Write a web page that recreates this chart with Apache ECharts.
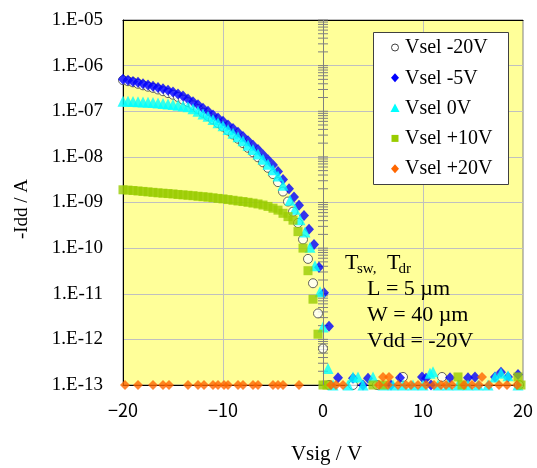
<!DOCTYPE html>
<html>
<head>
<meta charset="utf-8">
<script src="https://cdn.jsdelivr.net/npm/echarts@6/dist/echarts.min.js"></script>
<style>
  html, body { margin: 0; padding: 0; background: #ffffff; }
  #chart { width: 537px; height: 468px; }
</style>
</head>
<body>
<div id="chart"></div>
<script>
// Transfer curves: -Idd (A) versus Vsig (V) for five select-gate biases.

const seriesNames = ['Vsel -20V', 'Vsel -5V', 'Vsel 0V', 'Vsel +10V', 'Vsel +20V'];

// Vsel -20V
const vselM20Vsig = [-20, -19.5, -19.0, -18.5, -18.0, -17.5, -17.0, -16.5, -16.0, -15.5, -15.0, -14.5,
  -14.0, -13.5, -13.0, -12.5, -12.0, -11.5, -11.0, -10.5, -10.0, -9.5, -9.0, -8.5,
  -8.0, -7.5, -7.0, -6.5, -6.0, -5.5, -5.0, -4.5,
  -4.0, -3.5, -3.0, -2.5, -2.0, -1.5, -1.0, -0.5, 0.0,
  0.6, 3.0, 5.4, 8.0, 11.9, 19.6];
const vselM20Idd = [4.8e-7, 4.55e-7, 4.3e-7, 4.0e-7, 3.7e-7, 3.45e-7, 3.25e-7, 3.0e-7, 2.75e-7, 2.5e-7, 2.3e-7, 2.05e-7,
  1.8e-7, 1.58e-7, 1.35e-7, 1.12e-7, 9.3e-8, 7.9e-8, 6.6e-8, 5.5e-8, 4.6e-8, 3.8e-8, 3.1e-8, 2.5e-8,
  2.0e-8, 1.58e-8, 1.26e-8, 9.8e-9, 7.6e-9, 5.75e-9, 4.2e-9, 2.8e-9,
  1.74e-9, 1.05e-9, 6.3e-10, 3.55e-10, 1.55e-10, 5.8e-11, 1.7e-11, 3.7e-12, 6.3e-13,
  1.0e-13, 1.0e-13, 1.0e-13, 1.5e-13, 1.5e-13, 1.0e-13];

// Vsel -5V
const vselM5Vsig = [-20, -19.5, -19.0, -18.5, -18.0, -17.5, -17.0, -16.5, -16.0, -15.5, -15.0, -14.5,
  -14.0, -13.5, -13.0, -12.5, -12.0, -11.5, -11.0, -10.5, -10.0, -9.5, -9.0, -8.5,
  -8.0, -7.5, -7.0, -6.5, -6.0, -5.5, -5.0, -4.5,
  -4.0, -3.4, -2.9, -2.4, -1.9, -1.4, -0.9, -0.4, 0.1, 0.6,
  1.5, 3.0, 4.0, 4.5, 6.8, 7.7, 9.9, 10.3, 10.8, 12.7, 14.5, 15.2, 17.2, 17.8, 18.5, 19.5];
const vselM5Idd = [5.0e-7, 4.8e-7, 4.5e-7, 4.3e-7, 4.0e-7, 3.75e-7, 3.55e-7, 3.3e-7, 3.1e-7, 2.9e-7, 2.65e-7, 2.4e-7,
  2.15e-7, 1.85e-7, 1.62e-7, 1.38e-7, 1.17e-7, 1.0e-7, 8.3e-8, 7.1e-8, 6.0e-8, 5.0e-8, 4.2e-8, 3.45e-8,
  2.8e-8, 2.25e-8, 1.8e-8, 1.45e-8, 1.12e-8, 8.7e-9, 6.6e-9, 4.8e-9,
  3.2e-9, 2.0e-9, 1.32e-9, 8.7e-10, 5.2e-10, 2.6e-10, 1.2e-10, 3.8e-11, 1.05e-11, 1.95e-12,
  1.45e-13, 1.4e-13, 1.0e-13, 1.4e-13, 1.0e-13, 1.45e-13, 1.5e-13, 1.4e-13, 1.0e-13, 1.45e-13, 1.45e-13, 1.5e-13, 1.5e-13, 1.9e-13, 1.5e-13, 1.7e-13];

// Vsel 0V
const vsel0Vsig = [-20, -19.5, -19.0, -18.5, -18.0, -17.5, -17.0, -16.5, -16.0, -15.5, -15.0, -14.5,
  -14.0, -13.5, -13.0, -12.5, -12.0, -11.5, -11.0, -10.5, -10.0, -9.5, -9.0, -8.5,
  -8.0, -7.5, -7.0, -6.5, -6.0, -5.5, -5.0, -4.5,
  -4.0, -3.3, -2.8, -2.3, -1.8, -1.3, -0.8, -0.3, 0.0, 0.5,
  1.0, 2.5, 3.0, 3.5, 4.0, 5.0, 6.0, 7.0, 8.0, 9.0, 10.0, 10.7, 11.0, 11.5, 12.5, 13.5, 14.5, 15.5, 16.5, 17.2, 17.8, 18.5, 19.5];
const vsel0Idd = [1.66e-7, 1.65e-7, 1.64e-7, 1.62e-7, 1.6e-7, 1.57e-7, 1.55e-7, 1.52e-7, 1.48e-7, 1.45e-7, 1.41e-7, 1.36e-7,
  1.31e-7, 1.26e-7, 1.14e-7, 1.0e-7, 8.7e-8, 7.8e-8, 6.6e-8, 5.6e-8, 4.8e-8, 4.0e-8, 3.3e-8, 2.75e-8,
  2.25e-8, 1.8e-8, 1.45e-8, 1.15e-8, 8.9e-9, 6.9e-9, 5.25e-9, 3.8e-9,
  2.4e-9, 1.12e-9, 7.1e-10, 4.2e-10, 2.25e-10, 1.05e-10, 4.1e-11, 1.1e-11, 1.86e-12, 2.3e-13,
  1.0e-13, 1.0e-13, 1.5e-13, 1.5e-13, 1.0e-13, 1.5e-13, 1.0e-13, 1.0e-13, 1.0e-13, 1.0e-13, 1.0e-13, 1.8e-13, 1.95e-13, 1.0e-13, 1.0e-13, 1.0e-13, 1.0e-13, 1.0e-13, 1.0e-13, 1.5e-13, 1.8e-13, 1.6e-13, 1.0e-13];

// Vsel +10V
const vselP10Vsig = [-20, -19.5, -19.0, -18.5, -18.0, -17.5, -17.0, -16.5, -16.0, -15.5, -15.0, -14.5,
  -14.0, -13.5, -13.0, -12.5, -12.0, -11.5, -11.0, -10.5, -10.0, -9.5, -9.0, -8.5,
  -8.0, -7.5, -7.0, -6.5, -6.0, -5.5, -5.0, -4.5,
  -4.0, -3.5, -3.0, -2.5, -2.0, -1.5, -1.0, -0.5, 0.0,
  0.4, 5.0, 6.0, 13.5, 13.9, 19.5, 19.8];
const vselP10Idd = [1.9e-9, 1.87e-9, 1.83e-9, 1.79e-9, 1.75e-9, 1.71e-9, 1.67e-9, 1.63e-9, 1.6e-9, 1.57e-9, 1.54e-9, 1.5e-9,
  1.47e-9, 1.44e-9, 1.41e-9, 1.37e-9, 1.34e-9, 1.31e-9, 1.27e-9, 1.23e-9, 1.2e-9, 1.16e-9, 1.12e-9, 1.08e-9,
  1.05e-9, 1.01e-9, 9.7e-10, 9.3e-10, 8.8e-10, 8.2e-10, 7.5e-10, 6.8e-10,
  5.8e-10, 4.9e-10, 4.1e-10, 2.3e-10, 1.0e-10, 3.2e-11, 7.6e-12, 1.3e-12, 1.0e-13,
  1.0e-13, 1.0e-13, 1.0e-13, 1.5e-13, 1.0e-13, 1.5e-13, 1.0e-13];

// Vsel +20V
const vselP20Vsig = [-19.8, -18.5, -17.0, -16.0, -15.4, -13.5, -12.5, -11.9, -11.0, -10.5, -9.9, -9.5,
  -8.5, -8.0, -7.0, -6.5, -5.0, -4.5, -4.0, -2.4,
  0.8, 1.3, 2.0, 5.6, 6.0, 6.5, 6.6, 7.5, 8.3, 8.8, 9.5, 10.3, 11.1, 11.8, 12.3, 12.9,
  14.1, 14.9, 15.6, 15.9, 16.6, 17.6, 18.4, 19.4];
const vselP20Idd = [1.0e-13, 1.0e-13, 1.0e-13, 1.0e-13, 1.0e-13, 1.0e-13, 1.0e-13, 1.0e-13, 1.0e-13, 1.0e-13, 1.0e-13, 1.0e-13,
  1.0e-13, 1.0e-13, 1.0e-13, 1.0e-13, 1.0e-13, 1.0e-13, 1.0e-13, 1.0e-13,
  1.0e-13, 1.0e-13, 1.0e-13, 1.0e-13, 1.5e-13, 1.0e-13, 1.5e-13, 1.0e-13, 1.0e-13, 1.0e-13, 1.0e-13, 1.0e-13, 1.0e-13, 1.0e-13, 1.0e-13, 1.0e-13,
  1.0e-13, 1.0e-13, 1.0e-13, 1.5e-13, 1.0e-13, 1.0e-13, 1.0e-13, 1.0e-13];

// Axis ranges and ticks
const vsigTicks = [-20, -10, 0, 10, 20];
const iddMin = 1e-13;
const iddMax = 1e-5;
const tickDecades = [-13, -12, -11, -10, -9, -8, -7, -6];
const tickMantissas = [1, 2, 3, 4, 5, 6, 7, 8, 9];

// Device parameters printed inside the plot
const noteLines = ['L = 5 \u00b5m', 'W = 40 \u00b5m', 'Vdd = -20V'];

// ---------------------------------------------------------------------------

const serif = 'Liberation Serif';
const sans = 'Noto Sans CJK JP';

const markerColors = ['#ffffff', '#0000ff', '#00ffff', '#99cc00', '#ff6600'];

function pairs(xs, ys) {
  return xs.map((x, i) => [x, ys[i]]);
}

// Major and minor tick values along the Vsig = 0 axis
const zeroAxisTicks = [];
tickDecades.forEach(d => tickMantissas.forEach(m => zeroAxisTicks.push(m * Math.pow(10, d))));
zeroAxisTicks.push(iddMax);

function expLabel(v) {
  const e = Math.round(Math.log10(v));
  const s = String(Math.abs(e)).padStart(2, '0');
  return '1.E' + (e < 0 ? '-' : '+') + s;
}

// Key box in the upper right: frame, one marker glyph and one serif name per series
const key = { x: 373.5, y: 32.5, w: 135, h: 152, firstRow: 47.5, rowStep: 30.3, iconX: 395, textX: 405 };

function keyIcon(i, cy) {
  const cx = key.iconX;
  const fill = markerColors[i];
  const base = { z: 101 };
  if (i === 0) {
    return Object.assign(base, { type: 'circle', shape: { cx: cx, cy: cy, r: 3.5 }, style: { fill: fill, stroke: '#404040', lineWidth: 1 } });
  }
  if (i === 2) {
    return Object.assign(base, { type: 'polygon', shape: { points: [[cx, cy - 4.5], [cx + 4.5, cy + 4], [cx - 4.5, cy + 4]] }, style: { fill: fill } });
  }
  if (i === 3) {
    return Object.assign(base, { type: 'rect', shape: { x: cx - 3.5, y: cy - 3.5, width: 7, height: 7 }, style: { fill: fill } });
  }
  return Object.assign(base, { type: 'polygon', shape: { points: [[cx, cy - 4.5], [cx + 4, cy], [cx, cy + 4.5], [cx - 4, cy]] }, style: { fill: fill } });
}

const keyElements = [{
  type: 'rect', z: 100,
  shape: { x: key.x, y: key.y, width: key.w, height: key.h },
  style: { fill: '#ffffff', stroke: '#404040', lineWidth: 1 }
}];
seriesNames.forEach((name, i) => {
  const cy = key.firstRow + i * key.rowStep;
  keyElements.push(keyIcon(i, cy));
  keyElements.push({
    type: 'text', x: key.textX, y: cy + 0.5, z: 101,
    style: { text: name, fontFamily: serif, fontSize: 20, fill: '#000', align: 'left', verticalAlign: 'middle' }
  });
});

const chart = echarts.init(document.getElementById('chart'), null, { renderer: 'canvas' });

const scatterBase = { type: 'scatter', clip: false, emphasis: { disabled: true } };

const option = {
  animation: false,
  backgroundColor: '#ffffff',
  textStyle: { fontFamily: serif, color: '#000000' },
  legend: { show: false },
  grid: {
    left: 123, right: 14, top: 20, bottom: 83,
    show: true, backgroundColor: '#ffff99', borderColor: '#808080', borderWidth: 1,
    outerBoundsMode: 'none'
  },
  xAxis: [{
    type: 'value', min: vsigTicks[0], max: vsigTicks[vsigTicks.length - 1], interval: 10,
    position: 'bottom',
    axisLine: { onZero: false, lineStyle: { color: '#000000', width: 1 } },
    axisTick: { show: false },
    axisLabel: {
      margin: 16, color: '#000000', fontFamily: sans, fontSize: 18,
      formatter: v => (v < 0 ? '\u2212' + Math.abs(v) : String(v))
    },
    splitLine: { show: true, lineStyle: { color: '#c0c0c0', width: 1 } }
  }, {
    type: 'value', min: vsigTicks[0], max: vsigTicks[vsigTicks.length - 1],
    position: 'top',
    axisLine: { onZero: false, lineStyle: { color: '#000000', width: 1 } },
    axisTick: { show: false }, axisLabel: { show: false }, splitLine: { show: false }
  }],
  yAxis: [{
    type: 'log', logBase: 10, min: iddMin, max: iddMax, interval: 1,
    axisLine: { show: true, onZero: false, lineStyle: { color: '#000000', width: 1 } },
    axisTick: { show: false },
    axisLabel: { margin: 20, color: '#000000', fontFamily: serif, fontSize: 19, formatter: expLabel },
    splitLine: { show: true, lineStyle: { color: '#c0c0c0', width: 1 } }
  }],
  series: [
    {
      // crossing axis at Vsig = 0 with decade and sub-decade ticks
      type: 'custom', silent: true, clip: false, z: 1,
      data: zeroAxisTicks.map(v => [0, v]),
      renderItem: (params, api) => {
        const p = api.coord([api.value(0), api.value(1)]);
        return {
          type: 'line',
          shape: { x1: p[0] - 5, y1: p[1], x2: p[0] + 5, y2: p[1] },
          style: { stroke: '#808080', lineWidth: 1 }
        };
      },
      markLine: {
        silent: true, symbol: 'none', label: { show: false },
        lineStyle: { color: '#808080', type: 'solid', width: 1 },
        data: [{ xAxis: 0 }]
      }
    },
    Object.assign({}, scatterBase, {
      name: seriesNames[0], symbol: 'circle', symbolSize: 9,
      itemStyle: { color: markerColors[0], borderColor: '#404040', borderWidth: 1 },
      data: pairs(vselM20Vsig, vselM20Idd)
    }),
    Object.assign({}, scatterBase, {
      name: seriesNames[1], symbol: 'diamond', symbolSize: [10, 11],
      itemStyle: { color: markerColors[1] },
      data: pairs(vselM5Vsig, vselM5Idd)
    }),
    Object.assign({}, scatterBase, {
      name: seriesNames[2], symbol: 'triangle', symbolSize: 11,
      itemStyle: { color: markerColors[2] },
      data: pairs(vsel0Vsig, vsel0Idd)
    }),
    Object.assign({}, scatterBase, {
      name: seriesNames[3], symbol: 'rect', symbolSize: 9,
      itemStyle: { color: markerColors[3] },
      data: pairs(vselP10Vsig, vselP10Idd)
    }),
    Object.assign({}, scatterBase, {
      name: seriesNames[4], symbol: 'diamond', symbolSize: 10,
      itemStyle: { color: markerColors[4] },
      data: pairs(vselP20Vsig, vselP20Idd)
    })
  ],
  graphic: keyElements.concat([
    { type: 'text', x: 345, y: 263, z: 100, style: { text: 'T', fontFamily: serif, fontSize: 22, fill: '#000', align: 'left', verticalAlign: 'middle' } },
    { type: 'text', x: 357, y: 269, z: 100, style: { text: 'sw,', fontFamily: serif, fontSize: 15, fill: '#000', align: 'left', verticalAlign: 'middle' } },
    { type: 'text', x: 387, y: 263, z: 100, style: { text: 'T', fontFamily: serif, fontSize: 22, fill: '#000', align: 'left', verticalAlign: 'middle' } },
    { type: 'text', x: 398.5, y: 269, z: 100, style: { text: 'dr', fontFamily: serif, fontSize: 15, fill: '#000', align: 'left', verticalAlign: 'middle' } },
    { type: 'text', x: 367, y: 289, z: 100, style: { text: noteLines[0], fontFamily: serif, fontSize: 22, fill: '#000', align: 'left', verticalAlign: 'middle' } },
    { type: 'text', x: 367, y: 315, z: 100, style: { text: noteLines[1], fontFamily: serif, fontSize: 22, fill: '#000', align: 'left', verticalAlign: 'middle' } },
    { type: 'text', x: 367, y: 341.5, z: 100, style: { text: noteLines[2], fontFamily: serif, fontSize: 22, fill: '#000', align: 'left', verticalAlign: 'middle' } },
    { type: 'text', x: 326.5, y: 454.5, z: 100, style: { text: 'Vsig / V', fontFamily: serif, fontSize: 21, fill: '#000', align: 'center', verticalAlign: 'middle' } },
    { type: 'text', x: 22, y: 209, rotation: Math.PI / 2, z: 100, style: { text: '-Idd / A', fontFamily: serif, fontSize: 19, fill: '#000', align: 'center', verticalAlign: 'middle' } }
  ])
};

chart.setOption(option);
</script>
</body>
</html>
